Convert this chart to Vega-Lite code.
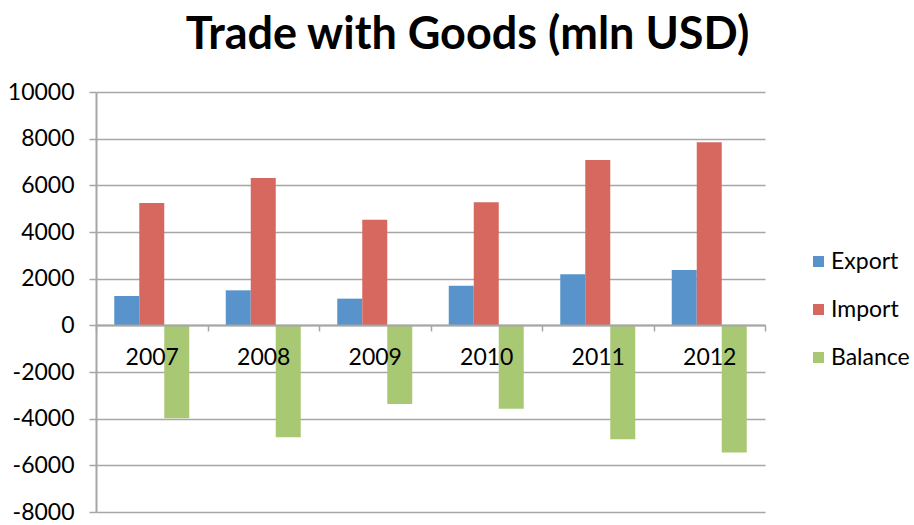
{
  "$schema": "https://vega.github.io/schema/vega-lite/v6.json",
  "width": 669,
  "height": 420,
  "autosize": "none",
  "padding": {"left": 96, "top": 92, "right": 149, "bottom": 13},
  "background": "white",
  "title": {
    "text": "Trade with Goods (mln USD)",
    "font": "Lato",
    "fontSize": 45,
    "fontWeight": "bold",
    "color": "#000000",
    "anchor": "middle",
    "frame": "group",
    "dx": 37,
    "offset": 23
  },
  "data": {
    "values": [
      {"year": "2007", "series": "Export", "value": 1257},
      {"year": "2007", "series": "Import", "value": 5243},
      {"year": "2007", "series": "Balance", "value": -3980},
      {"year": "2008", "series": "Export", "value": 1500},
      {"year": "2008", "series": "Import", "value": 6314},
      {"year": "2008", "series": "Balance", "value": -4800},
      {"year": "2009", "series": "Export", "value": 1143},
      {"year": "2009", "series": "Import", "value": 4529},
      {"year": "2009", "series": "Balance", "value": -3375},
      {"year": "2010", "series": "Export", "value": 1700},
      {"year": "2010", "series": "Import", "value": 5271},
      {"year": "2010", "series": "Balance", "value": -3580},
      {"year": "2011", "series": "Export", "value": 2186},
      {"year": "2011", "series": "Import", "value": 7086},
      {"year": "2011", "series": "Balance", "value": -4880},
      {"year": "2012", "series": "Export", "value": 2371},
      {"year": "2012", "series": "Import", "value": 7843},
      {"year": "2012", "series": "Balance", "value": -5450}
    ]
  },
  "mark": {"type": "bar"},
  "encoding": {
    "x": {
      "field": "year",
      "type": "nominal",
      "scale": {"paddingInner": 0, "paddingOuter": 0},
      "axis": {
        "title": null,
        "orient": "bottom",
        "offset": -187,
        "labelAngle": 0,
        "labelFont": "Lato",
        "labelFontSize": 23,
        "labelColor": "#000000",
        "labelPadding": 15,
        "tickBand": "extent",
        "tickSize": 6,
        "tickColor": "#a6a6a6",
        "tickWidth": 1.5,
        "domainColor": "#a6a6a6",
        "domainWidth": 2,
        "grid": false,
        "zindex": 1
      }
    },
    "xOffset": {
      "field": "series",
      "type": "nominal",
      "sort": ["Export", "Import", "Balance"],
      "scale": {"paddingInner": 0, "paddingOuter": 0.73}
    },
    "y": {
      "field": "value",
      "type": "quantitative",
      "scale": {"domain": [-8000, 10000], "nice": false, "zero": false},
      "axis": {
        "title": null,
        "values": [-8000, -6000, -4000, -2000, 0, 2000, 4000, 6000, 8000, 10000],
        "labelExpr": "'' + datum.value",
        "labelFont": "Lato",
        "labelFontSize": 23,
        "labelColor": "#000000",
        "labelPadding": 15,
        "tickSize": 7,
        "tickColor": "#a6a6a6",
        "tickWidth": 1.5,
        "domainColor": "#a6a6a6",
        "domainWidth": 2,
        "grid": true,
        "gridColor": "#a6a6a6",
        "gridWidth": 1.5
      }
    },
    "color": {
      "field": "series",
      "type": "nominal",
      "sort": ["Export", "Import", "Balance"],
      "scale": {
        "domain": ["Export", "Import", "Balance"],
        "range": ["#5894cb", "#d6685f", "#a9c873"]
      },
      "legend": {
        "title": null,
        "orient": "none",
        "legendX": 711,
        "legendY": 158,
        "symbolType": "square",
        "symbolSize": 121,
        "symbolStrokeWidth": 0,
        "symbolOpacity": 1,
        "labelFont": "Lato",
        "labelFontSize": 23,
        "labelColor": "#000000",
        "labelOffset": 1,
        "rowPadding": 24
      }
    }
  },
  "config": {"view": {"stroke": null}}
}
